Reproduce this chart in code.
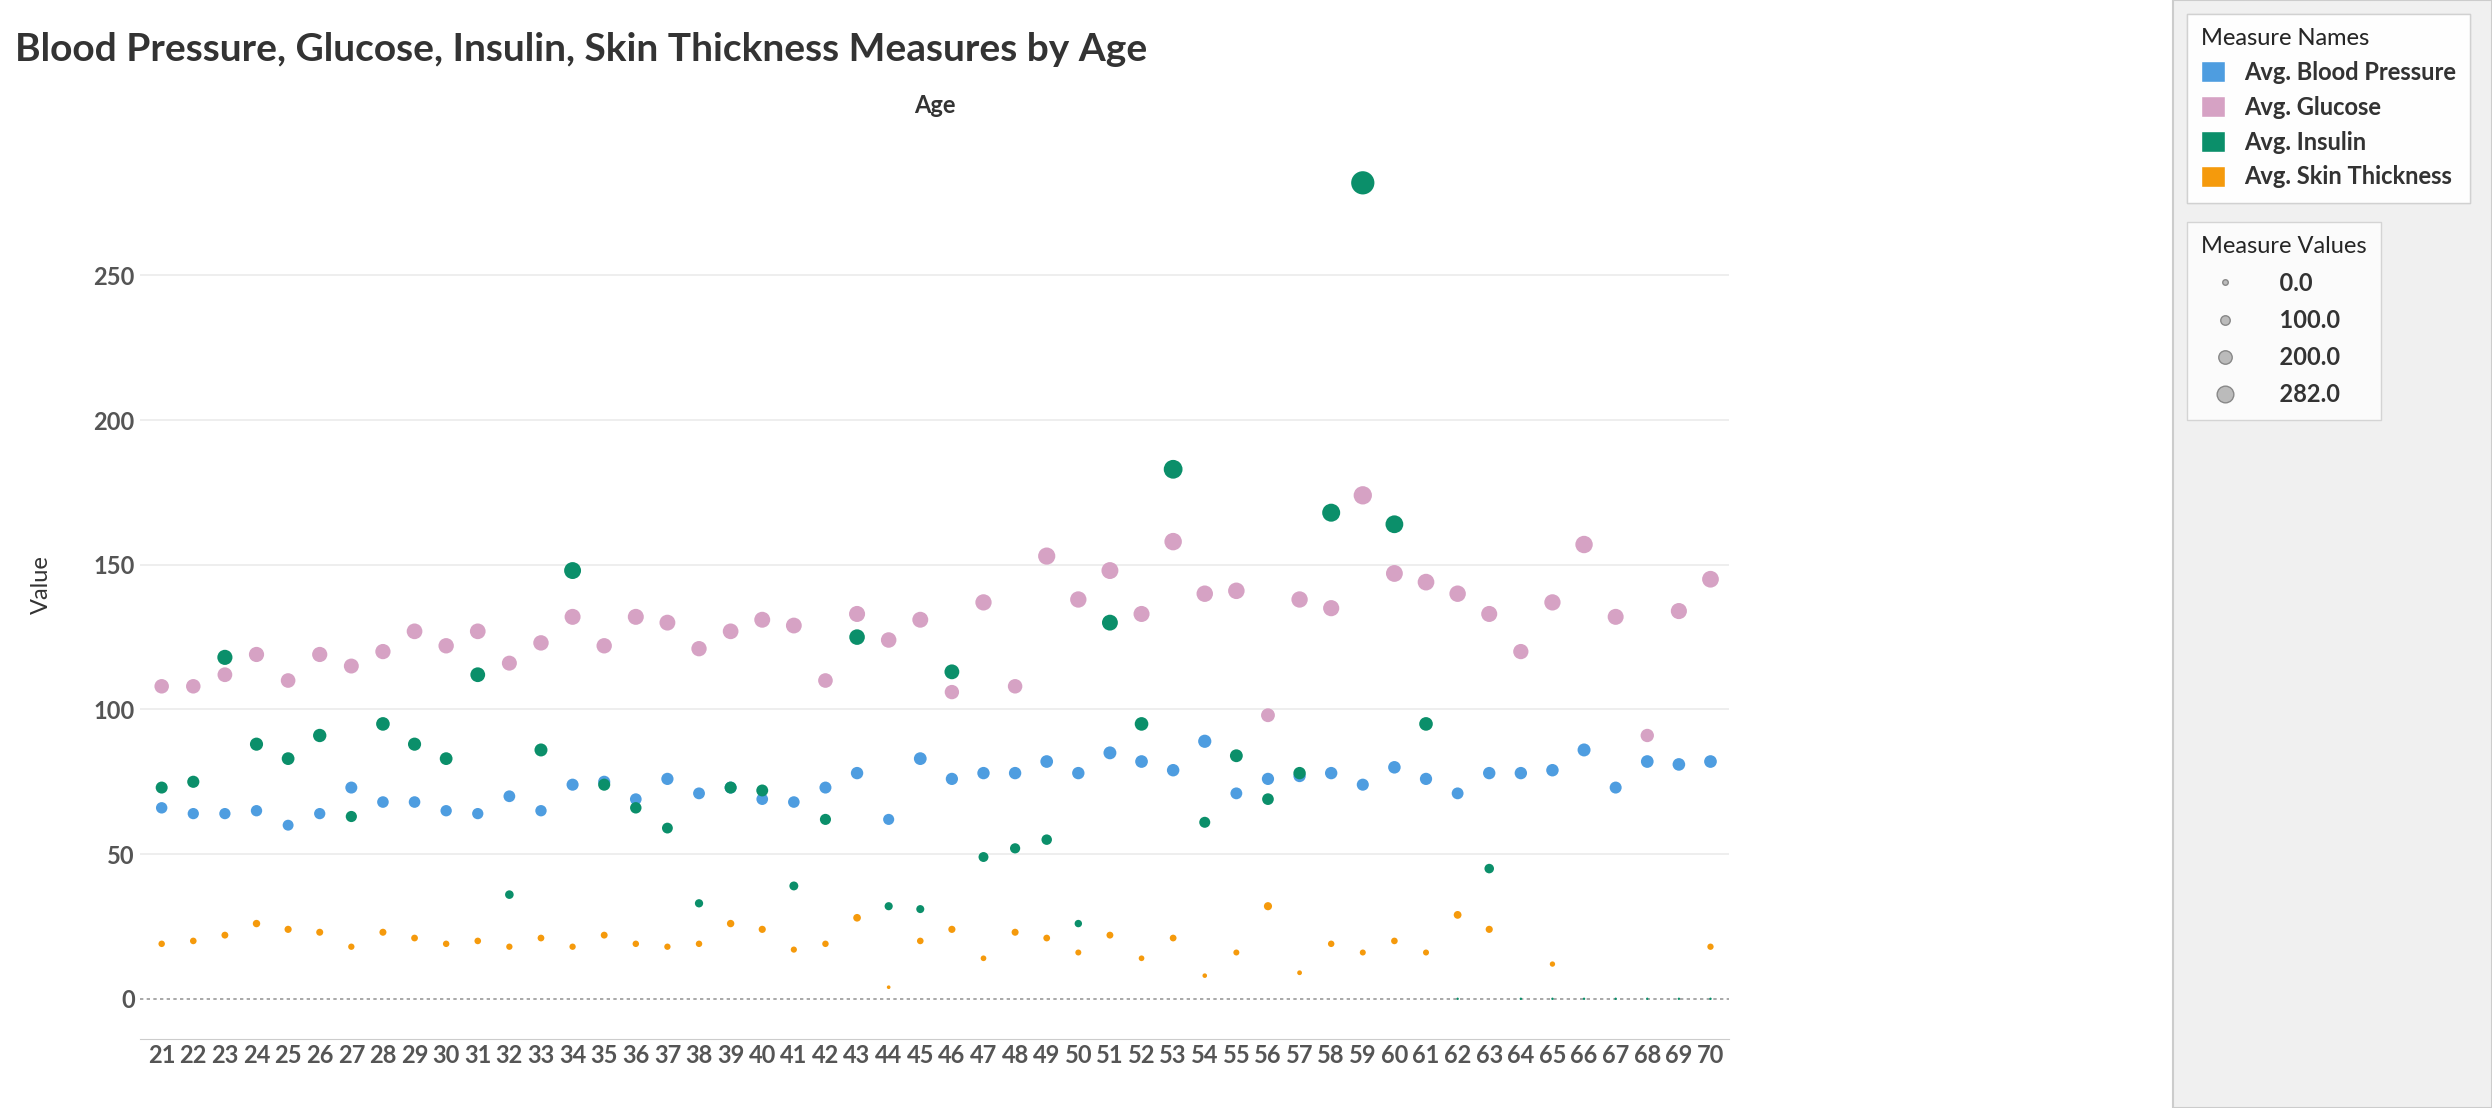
import numpy as np, pandas as pd, seaborn as sns, matplotlib
matplotlib.use("Agg")
import matplotlib.pyplot as plt
from matplotlib.lines import Line2D
from matplotlib.patches import Patch, Rectangle

ages = list(range(21, 71))
glucose = [108,108,112,119,110,119,115,120,127,122,127,116,123,132,122,132,130,121,127,131,129,110,133,124,131,106,137,108,153,138,148,133,158,140,141,98,138,135,174,147,144,140,133,120,137,157,132,91,134,145]
blood_pressure = [66,64,64,65,60,64,73,68,68,65,64,70,65,74,75,69,76,71,73,69,68,73,78,62,83,76,78,78,82,78,85,82,79,89,71,76,77,78,74,80,76,71,78,78,79,86,73,82,81,82]
insulin = [73,75,118,88,83,91,63,95,88,83,112,36,86,148,74,66,59,33,73,72,39,62,125,32,31,113,49,52,55,26,130,95,183,61,84,69,78,168,282,164,95,0,45,0,0,0,0,0,0,0]
skin = [19,20,22,26,24,23,18,23,21,19,20,18,21,18,22,19,18,19,26,24,17,19,28,4,20,24,14,23,21,16,22,14,21,8,16,32,9,19,16,20,16,29,24,np.nan,12,np.nan,np.nan,np.nan,np.nan,18]
names = ["Avg. Blood Pressure", "Avg. Glucose", "Avg. Insulin", "Avg. Skin Thickness"]
colors = ["#4E9DE0", "#D6A2C4", "#0B8F6A", "#F59A0C"]

rows = []
for n, vals in zip(names, [blood_pressure, glucose, insulin, skin]):
    for a, v in zip(ages, vals):
        if not np.isnan(v):
            rows.append((a, n, v))
df = pd.DataFrame(rows, columns=["Age", "Measure", "Value"])

sns.set_style("white")
plt.rcParams['font.family'] = ['Lato', 'DejaVu Sans']
fig = plt.figure(figsize=(24.92, 11.08), dpi=100)
fig.add_artist(Rectangle((0.872, 0), 0.128, 1, transform=fig.transFigure, facecolor="#f0f0f0",
                         edgecolor="#cccccc", lw=1.5, zorder=0))
ax = fig.add_axes([0.056, 0.062, 0.638, 0.82])
ax.axhline(0, color="#999999", ls=(0, (2, 2)), lw=1.2, zorder=1)
for y in [50, 100, 150, 200, 250]:
    ax.axhline(y, color="#ebebeb", lw=1.2, zorder=0)
sns.scatterplot(data=df, x="Age", y="Value", hue="Measure", hue_order=names,
                palette=colors, size="Value", sizes=(3, 280), size_norm=(0, 282),
                legend=False, linewidth=0, ax=ax, zorder=3)
ax.set_xlim(20.3, 70.6)
ax.set_ylim(-14, 300)
ax.set_xticks(ages)
ax.set_xticklabels([str(a) for a in ages], fontsize=17, fontweight="bold", color="#555555")
ax.set_yticks([0, 50, 100, 150, 200, 250])
ax.set_yticklabels(["0", "50", "100", "150", "200", "250"], fontsize=17, fontweight="bold", color="#555555")
ax.tick_params(length=0)
ax.set_xlabel("")
ax.set_ylabel("Value", fontsize=17, color="#333333", labelpad=30)
for s in ax.spines.values():
    s.set_visible(False)
ax.spines["bottom"].set_visible(True); ax.spines["bottom"].set_color("#cccccc")
ax.text(0.5, 1.02, "Age", transform=ax.transAxes, ha="center", fontsize=17, fontweight="bold", color="#333333")
fig.text(0.006, 0.955, "Blood Pressure, Glucose, Insulin, Skin Thickness Measures by Age",
         fontsize=28, fontweight="bold", color="#333333", va="center")

h1 = [Patch(facecolor=c, label=n) for c, n in zip(colors, names)]
l1 = fig.legend(handles=h1, title="Measure Names", loc="upper left", bbox_to_anchor=(0.873, 0.998),
                fontsize=17, title_fontsize=17, frameon=True, alignment="left", fancybox=False,
                handlelength=1.0, handleheight=1.0, borderpad=0.6, facecolor="white", edgecolor="#cccccc")
for t in l1.get_texts():
    t.set_fontweight("bold"); t.set_color("#333333")
vals = [0.0, 100.0, 200.0, 282.0]
h2 = [Line2D([], [], marker="o", ls="", markerfacecolor="#bbbbbb", markeredgecolor="#888888",
             markersize=4 + v / 282 * 8, label=f"  {v:.1f}") for v in vals]
l2 = fig.legend(handles=h2, title="Measure Values", loc="upper left", bbox_to_anchor=(0.873, 0.81),
                fontsize=17, title_fontsize=17, frameon=True, alignment="left", borderpad=0.6,
                labelspacing=0.6, fancybox=False, facecolor="white", edgecolor="#cccccc")
for t in l2.get_texts():
    t.set_fontweight("bold"); t.set_color("#333333")
fig.add_artist(l1)
fig.savefig("out.png", dpi=100)
